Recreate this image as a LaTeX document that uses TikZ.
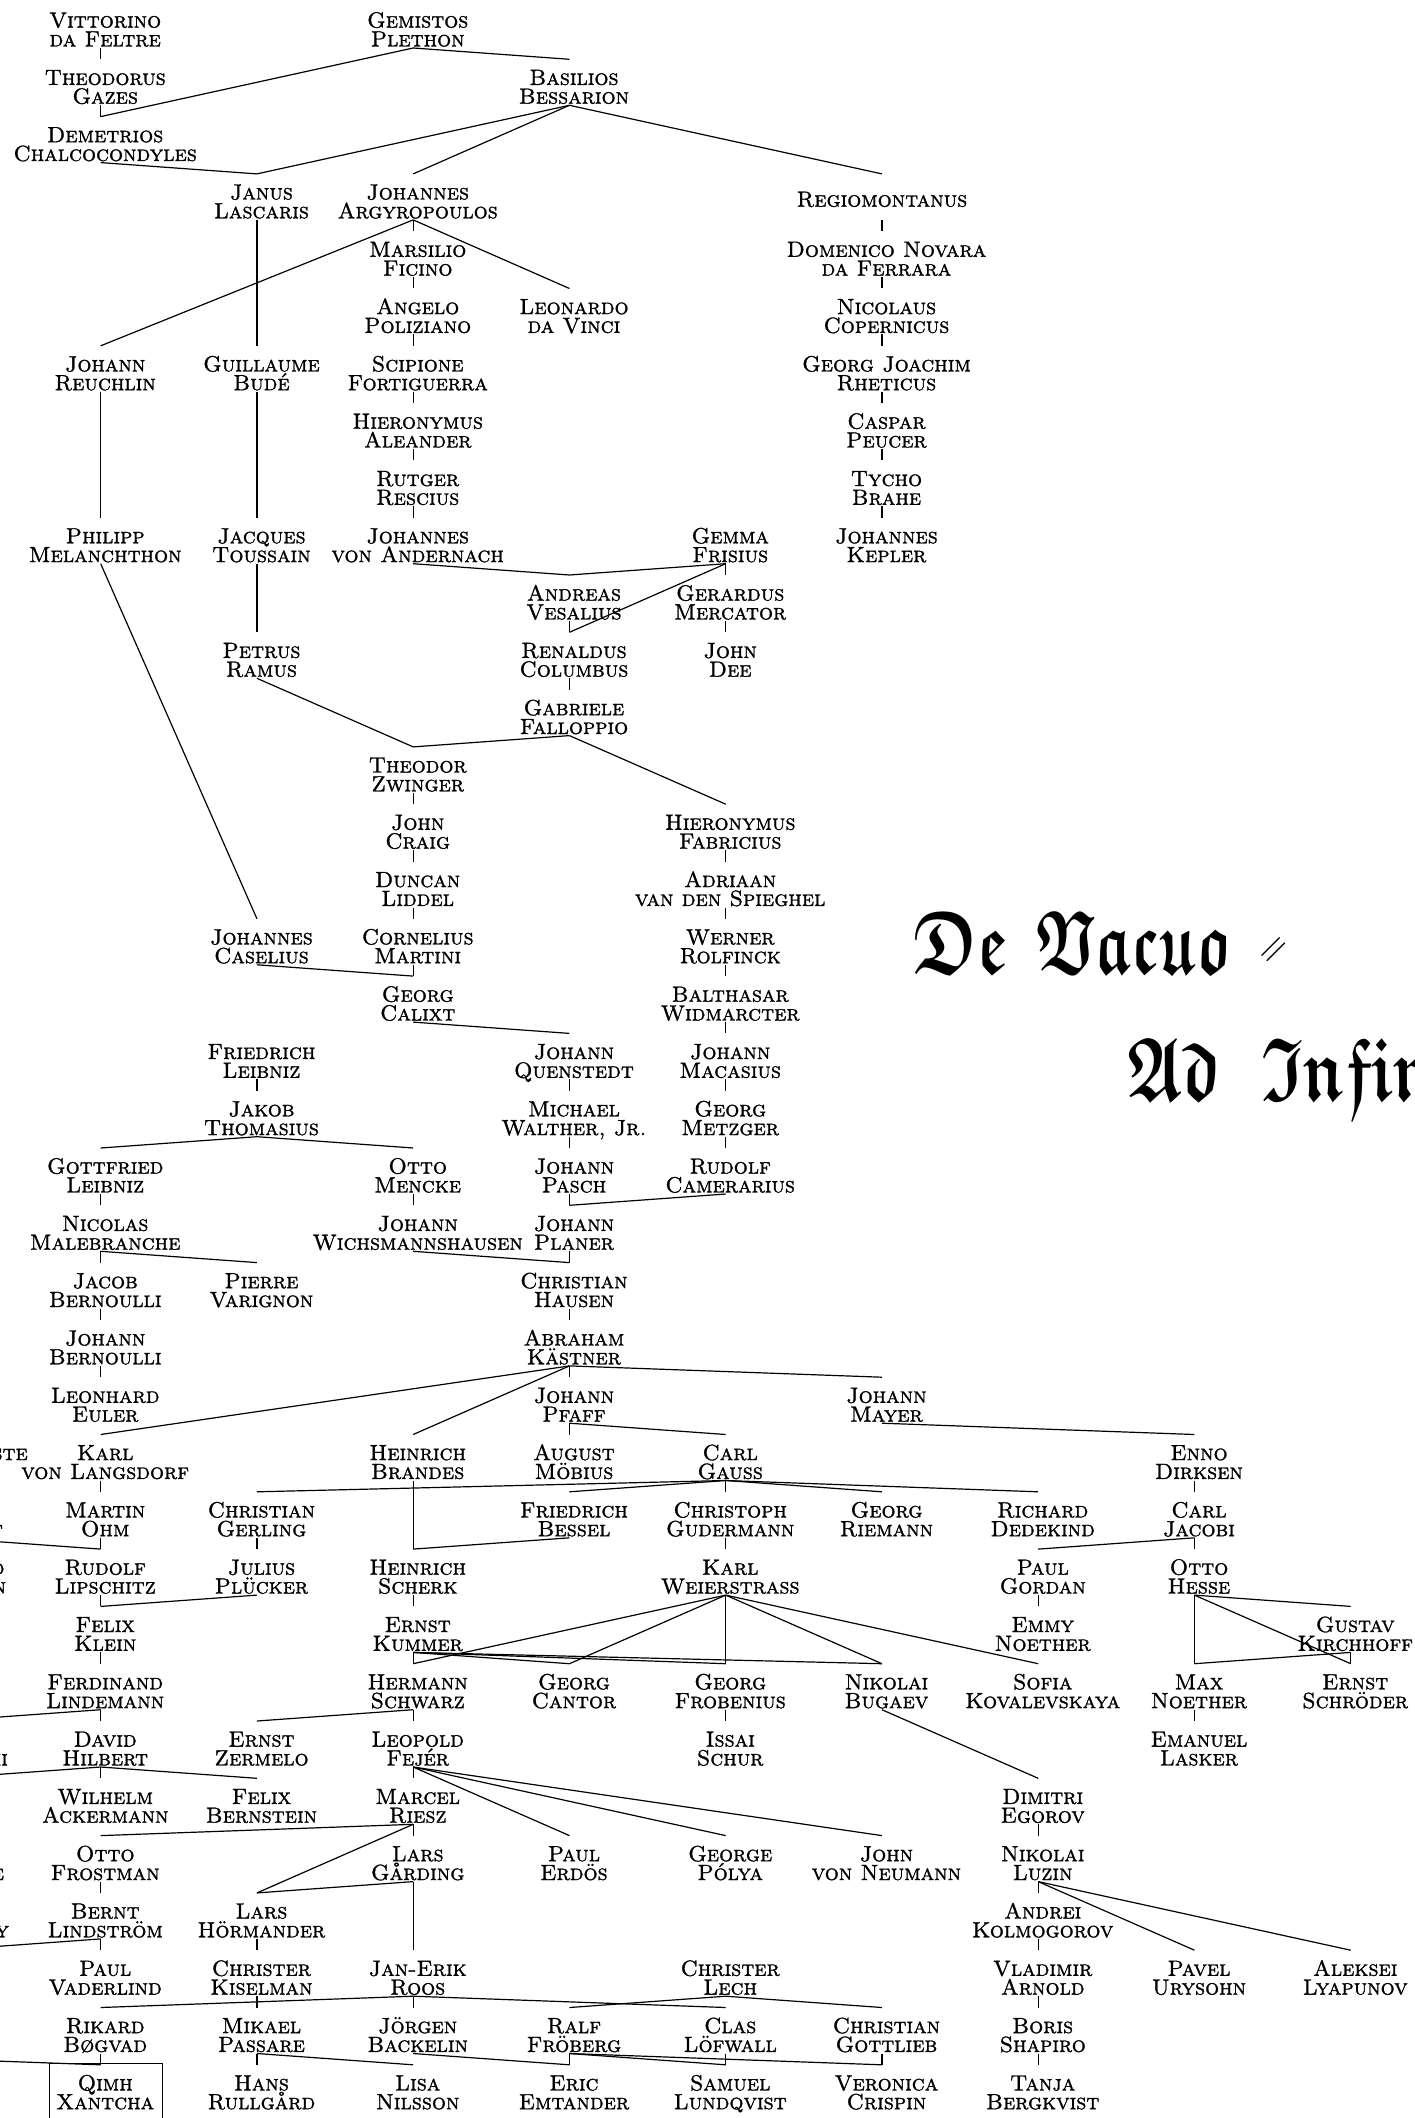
\documentclass[tikz,border=0pt]{standalone}
\usepackage{amsmath}
\usepackage{amssymb}
\usepackage{fontspec}
\newfontfamily\capsfont{lmromancaps10-regular.otf}[FakeBold=1.2]
\newcommand\nmtwo[2]{\vbox{\baselineskip=9.4pt\lineskiplimit=-\maxdimen\halign{\hfil\kern4.5pt##\hfil\cr#1\cr#2\cr}}}
\newcommand\frk[2][0.725]{\scalebox{#1}[1]{$\boldsymbol{\mathfrak{#2}}$}}
\tikzset{
  nm/.style={inner sep=0pt, outer sep=0pt, anchor=north, font=\capsfont\fontsize{11}{9.4}\selectfont, text height=22.2pt, text depth=0.8pt},
  nmone/.style={nm, text height=16.4pt, text depth=6.6pt},
  ed/.style={line width=0.6pt},
  ttl/.style={anchor=base west, inner sep=0pt, font=\fontsize{45}{50}\selectfont}
}
\newcommand\pp[5]{\node[nm] (#1) at ({100.7+156.25*(#2)},{2+57.3*(#3)}) {\nmtwo{#4}{#5}};}
\begin{document}
\begin{tikzpicture}[x=0.5pt,y=-0.5pt]
\useasboundingbox (0,0) rectangle (1414,2118);
\fill[white] (0,0) rectangle (1414,2118);
\clip (0,0) rectangle (1414,2118);
% row 0-2
\pp{vit}{0}{0}{Vittorino}{da Feltre}
\pp{gem}{2}{0}{Gemistos}{Plethon}
\pp{gaz}{0}{1}{Theodorus}{Gazes}
\pp{bes}{3}{1}{Basilios}{Bessarion}
\pp{dem}{0}{2}{Demetrios}{Chalcocondyles}
% row 3-8
\pp{jan}{1}{3}{Janus}{Lascaris}
\pp{arg}{2}{3}{Johannes}{Argyropoulos}
\node[nmone] (reg) at ({100.7+156.25*5},{2+57.3*3}) {Regiomontanus};
\pp{fic}{2}{4}{Marsilio}{Ficino}
\pp{nov}{5}{4}{Domenico Novara}{da Ferrara}
\pp{pol}{2}{5}{Angelo}{Poliziano}
\pp{leo}{3}{5}{Leonardo}{da Vinci}
\pp{cop}{5}{5}{Nicolaus}{Copernicus}
\pp{reu}{0}{6}{Johann}{Reuchlin}
\pp{bud}{1}{6}{Guillaume}{Budé}
\pp{for}{2}{6}{Scipione}{Fortiguerra}
\pp{rhe}{5}{6}{Georg Joachim}{Rheticus}
\pp{ale}{2}{7}{Hieronymus}{Aleander}
\pp{peu}{5}{7}{Caspar}{Peucer}
\pp{res}{2}{8}{Rutger}{Rescius}
\pp{tyc}{5}{8}{Tycho}{Brahe}
% row 9-17
\pp{mel}{0}{9}{Philipp}{Melanchthon}
\pp{tou}{1}{9}{Jacques}{Toussain}
\pp{and}{2}{9}{Johannes}{von Andernach}
\pp{fri}{4}{9}{Gemma}{Frisius}
\pp{kep}{5}{9}{Johannes}{Kepler}
\pp{ves}{3}{10}{Andreas}{Vesalius}
\pp{mer}{4}{10}{Gerardus}{Mercator}
\pp{ram}{1}{11}{Petrus}{Ramus}
\pp{col}{3}{11}{Renaldus}{Columbus}
\pp{dee}{4}{11}{John}{Dee}
\pp{fal}{3}{12}{Gabriele}{Falloppio}
\pp{zwi}{2}{13}{Theodor}{Zwinger}
\pp{cra}{2}{14}{John}{Craig}
\pp{fab}{4}{14}{Hieronymus}{Fabricius}
\pp{lid}{2}{15}{Duncan}{Liddel}
\pp{spi}{4}{15}{Adriaan}{van den Spieghel}
\pp{cas}{1}{16}{Johannes}{Caselius}
\pp{mar}{2}{16}{Cornelius}{Martini}
\pp{rol}{4}{16}{Werner}{Rolfinck}
\pp{cal}{2}{17}{Georg}{Calixt}
\pp{wid}{4}{17}{Balthasar}{Widmarcter}
% row 18-24
\pp{fle}{1}{18}{Friedrich}{Leibniz}
\pp{que}{3}{18}{Johann}{Quenstedt}
\pp{mac}{4}{18}{Johann}{Macasius}
\pp{tho}{1}{19}{Jakob}{Thomasius}
\pp{wal}{3}{19}{Michael}{Walther, Jr.}
\pp{met}{4}{19}{Georg}{Metzger}
\pp{gle}{0}{20}{Gottfried}{Leibniz}
\pp{men}{2}{20}{Otto}{Mencke}
\pp{pas}{3}{20}{Johann}{Pasch}
\pp{cam}{4}{20}{Rudolf}{Camerarius}
\pp{male}{0}{21}{Nicolas}{Malebranche}
\pp{wic}{2}{21}{Johann}{Wichsmannshausen}
\pp{pla}{3}{21}{Johann}{Planer}
\pp{jbe}{0}{22}{Jacob}{Bernoulli}
\pp{var}{1}{22}{Pierre}{Varignon}
\pp{hau}{3}{22}{Christian}{Hausen}
\pp{jobe}{0}{23}{Johann}{Bernoulli}
\pp{kae}{3}{23}{Abraham}{Kästner}
\pp{eul}{0}{24}{Leonhard}{Euler}
\pp{pfa}{3}{24}{Johann}{Pfaff}
\pp{may}{5}{24}{Johann}{Mayer}
% row 25-29
\pp{fou}{-1}{25}{Jean Baptiste}{Fourier}
\pp{lan}{0}{25}{Karl}{von Langsdorf}
\pp{bra}{2}{25}{Heinrich}{Brandes}
\pp{moe}{3}{25}{August}{Möbius}
\pp{gau}{4}{25}{Carl}{Gauss}
\pp{dir}{7}{25}{Enno}{Dirksen}
\pp{dch}{-1}{26}{Lejeune}{Dirichlet}
\pp{ohm}{0}{26}{Martin}{Ohm}
\pp{ger}{1}{26}{Christian}{Gerling}
\pp{bss}{3}{26}{Friedrich}{Bessel}
\pp{gud}{4}{26}{Christoph}{Gudermann}
\pp{rie}{5}{26}{Georg}{Riemann}
\pp{ded}{6}{26}{Richard}{Dedekind}
\pp{jac}{7}{26}{Carl}{Jacobi}
\pp{eis}{-1}{27}{Gotthold}{Eisenstein}
\pp{lip}{0}{27}{Rudolf}{Lipschitz}
\pp{plu}{1}{27}{Julius}{Plücker}
\pp{sch}{2}{27}{Heinrich}{Scherk}
\pp{wei}{4}{27}{Karl}{Weierstrass}
\pp{gor}{6}{27}{Paul}{Gordan}
\pp{hes}{7}{27}{Otto}{Hesse}
\pp{kle}{0}{28}{Felix}{Klein}
\pp{kum}{2}{28}{Ernst}{Kummer}
\pp{emn}{6}{28}{Emmy}{Noether}
\pp{kir}{8}{28}{Gustav}{Kirchhoff}
\pp{lin}{0}{29}{Ferdinand}{Lindemann}
\pp{schw}{2}{29}{Hermann}{Schwarz}
\pp{can}{3}{29}{Georg}{Cantor}
\pp{fro}{4}{29}{Georg}{Frobenius}
\pp{bug}{5}{29}{Nikolai}{Bugaev}
\pp{kov}{6}{29}{Sofia}{Kovalevskaya}
\pp{mno}{7}{29}{Max}{Noether}
\pp{sro}{8}{29}{Ernst}{Schröder}
% row 30-36
\pp{min}{-1}{30}{Hermann}{Minkowski}
\pp{hil}{0}{30}{David}{Hilbert}
\pp{zer}{1}{30}{Ernst}{Zermelo}
\pp{fej}{2}{30}{Leopold}{Fejér}
\pp{sur}{4}{30}{Issai}{Schur}
\pp{las}{7}{30}{Emanuel}{Lasker}
\pp{wey}{-1}{31}{Hermann}{Weyl}
\pp{ack}{0}{31}{Wilhelm}{Ackermann}
\pp{ber}{1}{31}{Felix}{Bernstein}
\pp{rsz}{2}{31}{Marcel}{Riesz}
\pp{ego}{6}{31}{Dimitri}{Egorov}
\pp{mcl}{-1}{32}{Saunders}{Mac Lane}
\pp{fst}{0}{32}{Otto}{Frostman}
\pp{gar}{2}{32}{Lars}{Gårding}
\pp{erd}{3}{32}{Paul}{Erdös}
\pp{gpo}{4}{32}{George}{Pólya}
\pp{neu}{5}{32}{John}{von Neumann}
\pp{luz}{6}{32}{Nikolai}{Luzin}
\pp{kap}{-1}{33}{Irving}{Kaplansky}
\pp{lst}{0}{33}{Bernt}{Lindström}
\pp{hor}{1}{33}{Lars}{Hörmander}
\pp{kol}{6}{33}{Andrei}{Kolmogorov}
\coordinate (c34) at ({100.7-156.25},{2+57.3*34});
\pp{vad}{0}{34}{Paul}{Vaderlind}
\pp{kis}{1}{34}{Christer}{Kiselman}
\pp{roo}{2}{34}{Jan-Erik}{Roos}
\pp{lec}{4}{34}{Christer}{Lech}
\pp{arn}{6}{34}{Vladimir}{Arnold}
\pp{ury}{7}{34}{Pavel}{Urysohn}
\pp{lya}{8}{34}{Aleksei}{Lyapunov}
\coordinate (c35) at ({100.7-2*156.25},{2+57.3*35+46});
\pp{bog}{0}{35}{Rikard}{Bøgvad}
\pp{pas2}{1}{35}{Mikael}{Passare}
\pp{bac}{2}{35}{Jörgen}{Backelin}
\pp{frb}{3}{35}{Ralf}{Fröberg}
\pp{lof}{4}{35}{Clas}{Löfwall}
\pp{got}{5}{35}{Christian}{Gottlieb}
\pp{sha}{6}{35}{Boris}{Shapiro}
\pp{qim}{0}{36}{Qimh}{Xantcha}
\pp{rul}{1}{36}{Hans}{Rullgård}
\pp{nil}{2}{36}{Lisa}{Nilsson}
\pp{emt}{3}{36}{Eric}{Emtander}
\pp{lun}{4}{36}{Samuel}{Lundqvist}
\pp{cri}{5}{36}{Veronica}{Crispin}
\pp{tan}{6}{36}{Tanja}{Bergkvist}
% connectors
\foreach \a/\b in {vit/gaz, gaz/dem, gem/dem, gem/bes, dem/jan, bes/jan, bes/arg, bes/reg,
  arg/fic, arg/leo, arg/reu, jan/bud, fic/pol, pol/for, for/ale, ale/res, res/and,
  reg/nov, nov/cop, cop/rhe, rhe/peu, peu/tyc, tyc/kep, reu/mel, bud/tou, tou/ram, mel/cas,
  and/ves, fri/ves, fri/mer, fri/col, ves/col, mer/dee, col/fal, ram/zwi, fal/zwi, fal/fab,
  zwi/cra, cra/lid, lid/mar, fab/spi, spi/rol, rol/wid, wid/mac, cas/cal, mar/cal, cal/que,
  mac/met, met/cam, que/wal, wal/pas, cam/pla, pas/pla, fle/tho, tho/gle, tho/men, gle/male,
  men/wic, wic/hau, pla/hau, male/jbe, male/var, jbe/jobe, jobe/eul, hau/kae, kae/lan, kae/bra,
  kae/pfa, kae/may, pfa/moe, pfa/gau, may/dir, lan/ohm, gau/ger, gau/bss, gau/gud, gau/rie,
  gau/ded, bra/sch, bss/sch, ger/plu, ohm/lip, dch/lip, plu/kle, lip/kle, gud/wei, sch/kum,
  wei/schw, wei/can, wei/fro, wei/bug, wei/kov, kum/schw, kum/can, kum/fro, kum/bug,
  dir/jac, jac/gor, jac/hes, gor/emn, hes/kir, hes/mno, hes/sro, kir/mno, kir/sro, mno/las,
  fro/sur, bug/ego, ego/luz, luz/kol, luz/ury, luz/lya, kol/arn, arn/sha, sha/tan,
  kle/lin, lin/hil, lin/min, schw/fej, schw/zer, hil/ack, hil/ber, hil/wey, fej/rsz, fej/erd,
  fej/gpo, fej/neu, rsz/gar, rsz/fst, rsz/hor, gar/hor, gar/roo, fst/lst, lst/vad, hor/kis,
  kis/pas2, roo/bog, roo/bac, roo/lof, lec/frb, lec/got, bog/qim, pas2/rul, pas2/nil,
  bac/emt, frb/emt, frb/lun, frb/cri, lof/lun, got/cri, wey/mcl, mcl/kap}
  \draw[ed] (\a.south) -- (\b.north);
\draw[ed] (lst.south) -- (c34);
\draw[ed] (c35) -- (qim.north);
\draw[ed] (qim.north) ++(-51.4,-1.5) rectangle ++(113,100);
% title
\node[ttl] (tt1) at (913,973) {\frk{De}\hspace{14pt}\frk[0.67]{Vacuo}};
\node[anchor=center, inner sep=0pt, rotate=45, font=\fontsize{20}{20}\selectfont] (tth) at (1276,952) {$=$};
\node[ttl] (tt2) at (1127,1100) {\frk{Ad}\hspace{20pt}\frk{Infinitum}};
\end{tikzpicture}
\end{document}
